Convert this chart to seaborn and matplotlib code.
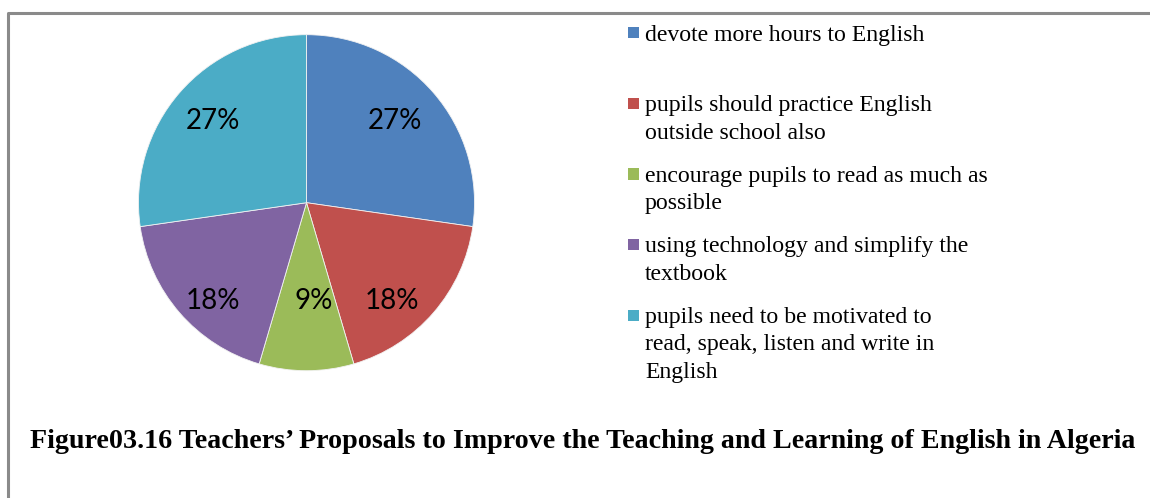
import matplotlib
matplotlib.use("Agg")
import matplotlib.pyplot as plt
import seaborn as sns
import numpy as np
from matplotlib.lines import Line2D
from matplotlib.patches import Rectangle

sns.set_theme(style="white")

# Teachers' proposals (number of teachers per proposal)
proposals = [
    "devote more hours to English",
    "pupils should practice English\noutside school also",
    "encourage pupils to read as much as\npossible",
    "using technology and simplify the\ntextbook",
    "pupils need to be motivated to\nread, speak, listen and write in\nEnglish",
]
counts = [3, 2, 1, 2, 3]
colors = ["#4F81BD", "#C0504D", "#9BBB59", "#8064A2", "#4BACC6"]
title = ("Figure03.16 Teachers\u2019 Proposals to Improve the Teaching "
         "and Learning of English in Algeria")

W, H = 1150, 498
fig = plt.figure(figsize=(W / 100, H / 100), dpi=100)
fig.patch.set_facecolor("white")


def fx(x):
    return x / W


def fy(y):
    return 1 - y / H


# Frame around the chart area (top and left edges)
fig.add_artist(Line2D([fx(8), fx(8), fx(W)], [fy(H), fy(13), fy(13)],
                      transform=fig.transFigure, color="#8a8a8a", lw=2.2))

# Pie
cx, cy, r = 306.5, 202.7, 168
ax = fig.add_axes([fx(cx - r), fy(cy + r), 2 * r / W, 2 * r / H])
ax.axis("off")

wedges, _, autotexts = ax.pie(
    counts, colors=colors, startangle=90, counterclock=False, radius=1,
    autopct=lambda p: f"{p:.0f}%",
    wedgeprops=dict(edgecolor="#f2f2f2", linewidth=0.6),
    textprops=dict(fontsize=20, family="Lato", color="black"),
)
ax.set_xlim(-1, 1)
ax.set_ylim(-1, 1)
ax.set_aspect("equal")

# Data-label placement inside each slice
label_dist = [0.73, 0.76, 0.567, 0.794, 0.753]
label_turn = [2.8, -7.3, 4.5, 4.5, -1.3]
for w, t, d, dt in zip(wedges, autotexts, label_dist, label_turn):
    ang = np.deg2rad((w.theta1 + w.theta2) / 2 + dt)
    t.set_position((d * np.cos(ang), d * np.sin(ang) - 0.018))
    t.set_ha("center")
    t.set_va("center")

# Legend
slot0, slot = 33.0, 70.5
line_h = 27.6
for i, (lab, col) in enumerate(zip(proposals, colors)):
    yc = slot0 + i * slot
    fig.add_artist(Rectangle((fx(628), fy(yc + 5.5)), 11 / W, 11 / H,
                             transform=fig.transFigure, facecolor=col,
                             edgecolor="none"))
    for j, line in enumerate(lab.split("\n")):
        fig.text(fx(645), fy(yc + 7.7 + j * line_h), line,
                 family="Liberation Serif", fontsize=17.1, color="black",
                 ha="left", va="baseline")

# Caption
fig.text(fx(29.5), fy(448), title, family="Liberation Serif",
         fontweight="bold", fontsize=20.2, color="black",
         ha="left", va="baseline")

fig.savefig("out.png", dpi=100, facecolor="white")
